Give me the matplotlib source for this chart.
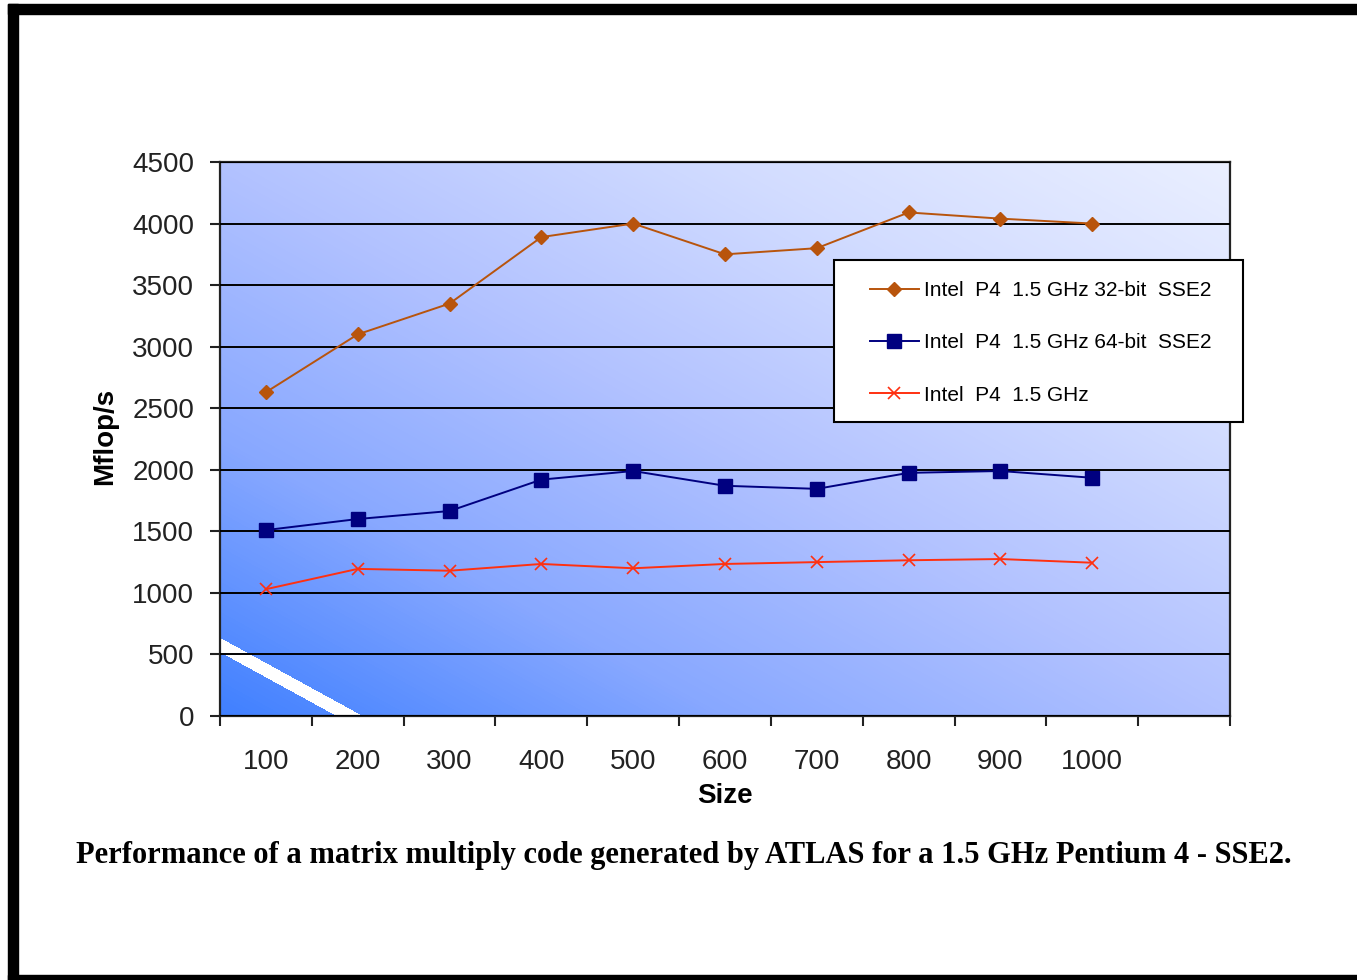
import numpy as np
import matplotlib
matplotlib.use("Agg")
import matplotlib.pyplot as plt
from matplotlib.colors import LinearSegmentedColormap
from matplotlib.patches import Rectangle

plt.rcParams["font.family"] = ["Liberation Sans", "DejaVu Sans"]

# ── data ──────────────────────────────────────────────────────────────
sizes = ["100", "200", "300", "400", "500", "600", "700", "800", "900", "1000"]
sse2_32 = [2630, 3100, 3350, 3890, 4000, 3750, 3800, 4090, 4040, 4000]
sse2_64 = [1510, 1600, 1665, 1920, 1990, 1870, 1845, 1975, 1990, 1935]
plain   = [1030, 1195, 1180, 1235, 1200, 1235, 1250, 1265, 1275, 1245]
labels  = ["Intel  P4  1.5 GHz 32-bit  SSE2",
           "Intel  P4  1.5 GHz 64-bit  SSE2",
           "Intel  P4  1.5 GHz"]
n_slots = 11
yticks = np.arange(0, 4501, 500)

W, H = 1357, 980
fig = plt.figure(figsize=(W / 100, H / 100), dpi=100)
fig.patch.set_facecolor("white")

# black frame around the picture (pixel boxes)
for x0, y0, x1, y1 in [(8, 4, 18, 980), (8, 4, W, 14), (8, 975, W, 980)]:
    fig.patches.append(Rectangle((x0 / W, 1 - y1 / H), (x1 - x0) / W, (y1 - y0) / H,
                                 transform=fig.transFigure, color="black", zorder=0))

ax = fig.add_axes([220 / W, 1 - 716 / H, 1010 / W, 554 / H])

# diagonal gradient background with the white streak in the lower-left corner
cmap = LinearSegmentedColormap.from_list(
    "bg", [(0.0, "#4080ff"), (0.25, "#88a8ff"), (0.5, "#b2c2ff"),
           (0.75, "#d2dcff"), (1.0, "#eaefff")])
u = np.linspace(0, 1, 1010)
v = np.linspace(1, 0, 554)
U, V = np.meshgrid(u, v)
t = (U + V) / 2
img = cmap(t)
img[(t > 0.057) & (t < 0.070)] = (1, 1, 1, 1)
ax.imshow(img, extent=(0, n_slots, 0, 4500), aspect="auto", zorder=0,
          interpolation="nearest")

x = np.arange(len(sizes)) + 0.5
ax.plot(x, sse2_32, color="#b8540c", lw=1.4, marker="D", ms=7.5,
        mec="#b8540c", mfc="#b8540c", zorder=3)
ax.plot(x, sse2_64, color="#000080", lw=1.4, marker="s", ms=9.5,
        mec="#000080", mfc="#000080", zorder=3)
ax.plot(x, plain, color="#ff3010", lw=1.4, marker="x", ms=9, mew=1.2,
        zorder=3)

ax.set_xlim(0, n_slots)
ax.set_ylim(0, 4500)
ax.set_yticks(yticks)
ax.set_yticklabels([str(v) for v in yticks])
ax.set_xticks(np.arange(0, n_slots + 1))
ax.set_xticklabels([])
ax.set_xticks(x, minor=True)
ax.set_xticklabels(sizes, minor=True)
ax.tick_params(axis="x", which="major", direction="out", length=7.5, width=1.5,
               color="#222222")
ax.tick_params(axis="x", which="minor", length=0, pad=24, labelsize=20,
               labelcolor="#222222")
ax.tick_params(axis="y", direction="out", length=7.5, width=1.5, pad=11,
               labelsize=20, color="#222222", labelcolor="#222222")
ax.grid(axis="y", color="black", lw=1.4, zorder=1)
ax.set_axisbelow(False)
for sp in ax.spines.values():
    sp.set_color("#222222")
    sp.set_linewidth(1.6)

ax.set_ylabel("Mflop/s", fontsize=20, fontweight="bold")
ax.yaxis.set_label_coords(-0.101, 0.504)
ax.set_xlabel("Size", fontsize=20, fontweight="bold")
ax.xaxis.set_label_coords(0.5, -0.121)

# legend box (sits partly outside the plot area)
fig.patches.append(Rectangle((834 / W, 1 - 422 / H), 409 / W, 162 / H,
                             transform=fig.transFigure, facecolor="white",
                             edgecolor="black", lw=1.5, zorder=4))
leg = fig.legend(ax.get_lines(), labels, loc="upper left",
                 bbox_to_anchor=(870 / W, 1 - 281 / H), borderaxespad=0,
                 borderpad=0, frameon=False, fontsize=15, handlelength=2.35,
                 handletextpad=0.25, labelspacing=1.6)
leg.set_zorder(5)

fig.text(684 / W, 1 - 855 / H,
         "Performance of a matrix multiply code generated by ATLAS for a 1.5 GHz Pentium 4 - SSE2.",
         ha="center", va="center", fontsize=22, fontweight="bold",
         family=["Liberation Serif", "DejaVu Serif"])

fig.savefig("out.png", dpi=100)
